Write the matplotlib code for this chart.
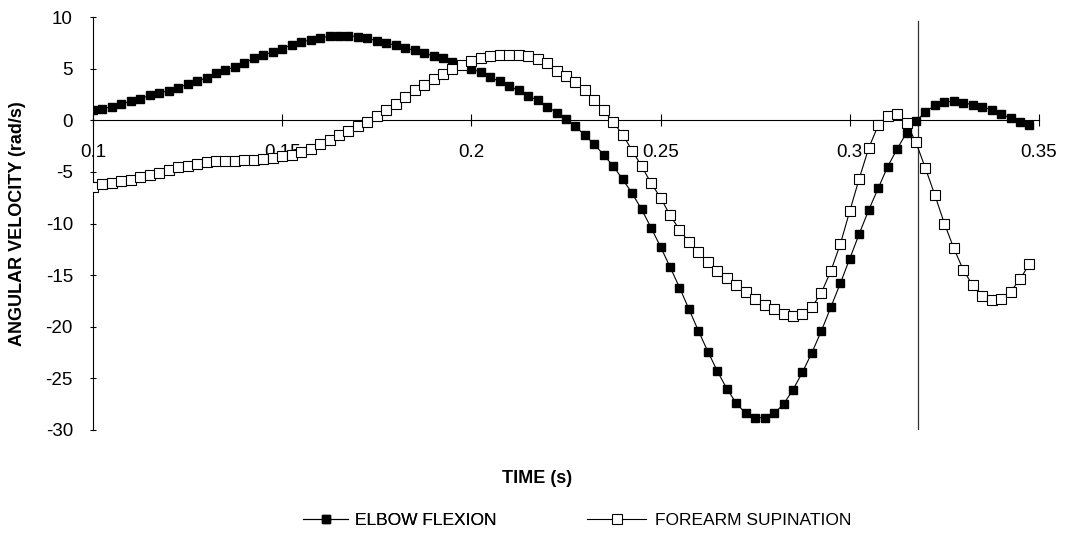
import numpy as np
import matplotlib
matplotlib.use('Agg')
import matplotlib.pyplot as plt
from matplotlib.ticker import FixedLocator

plt.rcParams['font.family'] = ['Liberation Sans', 'DejaVu Sans']

# 时间 (s)：0.1 起，每 0.0025 s 一个采样点
time = np.round(0.1 + 0.0025 * np.arange(100), 4)

elbow_flexion = [
    0.97, 1.1, 1.33, 1.58, 1.84, 2.1, 2.4, 2.62, 2.88, 3.17,
    3.5, 3.79, 4.1, 4.53, 4.85, 5.17, 5.56, 5.99, 6.28, 6.63,
    6.95, 7.3, 7.55, 7.8, 8.0, 8.12, 8.18, 8.2, 8.1, 7.93,
    7.7, 7.5, 7.25, 7.0, 6.77, 6.5, 6.24, 6.0, 5.66, 5.34,
    5.0, 4.63, 4.15, 3.76, 3.27, 2.91, 2.36, 1.94, 1.33, 0.75,
    0.17, -0.6, -1.46, -2.33, -3.37, -4.44, -5.73, -7.09, -8.64, -10.42,
    -12.26, -14.2, -16.2, -18.3, -20.4, -22.4, -24.3, -26.0, -27.4, -28.4,
    -28.8, -28.8, -28.4, -27.5, -26.1, -24.4, -22.5, -20.4, -18.1, -15.8,
    -13.4, -11.0, -8.7, -6.6, -4.5, -2.8, -1.2, -0.1, 0.8, 1.45,
    1.75, 1.85, 1.7, 1.5, 1.3, 1.0, 0.6, 0.2, -0.2, -0.5,
]

forearm_supination = [
    -6.5, -6.2, -6.1, -5.9, -5.75, -5.5, -5.35, -5.1, -4.8, -4.55,
    -4.45, -4.25, -4.05, -3.98, -3.9, -3.9, -3.88, -3.85, -3.75, -3.65,
    -3.5, -3.33, -3.07, -2.75, -2.33, -1.88, -1.46, -1.04, -0.58, -0.13,
    0.4, 0.95, 1.6, 2.3, 2.9, 3.45, 4.0, 4.5, 4.95, 5.35,
    5.75, 6.05, 6.2, 6.3, 6.33, 6.3, 6.2, 5.9, 5.5, 4.8,
    4.3, 3.75, 2.95, 2.0, 0.95, -0.2, -1.4, -2.95, -4.45, -6.1,
    -7.5, -9.2, -10.6, -11.8, -12.8, -13.7, -14.6, -15.3, -16.0, -16.6,
    -17.3, -17.9, -18.3, -18.8, -19.0, -18.8, -18.1, -16.7, -14.6, -12.0,
    -8.8, -5.65, -2.7, -0.5, 0.45, 0.6, -0.3, -2.15, -4.65, -7.25,
    -10.0, -12.4, -14.5, -16.0, -17.0, -17.4, -17.3, -16.6, -15.4, -13.9,
]

x_ticks = [0.1, 0.15, 0.2, 0.25, 0.3, 0.35]
x_tick_labels = ['0.1', '0.15', '0.2', '0.25', '0.3', '0.35']
y_ticks = [10, 5, 0, -5, -10, -15, -20, -25, -30]
marker_time = 0.318

fig = plt.figure(figsize=(10.68, 5.47), dpi=100)
ax = fig.add_axes([0.0871, 0.2139, 0.8857, 0.7550])

l1, = ax.plot(time, elbow_flexion, color='black', lw=0.8, marker='s', ms=5.5,
              mfc='black', mec='black', label='ELBOW FLEXION', zorder=3)
l2, = ax.plot(time, forearm_supination, color='black', lw=0.8, marker='s', ms=6.5,
              mfc='white', mec='black', mew=0.8, label='FOREARM SUPINATION', zorder=3)

# 竖直参考线
ax.plot([marker_time, marker_time], [-30, 9.6], color='#333333', lw=0.9, zorder=2)

ax.set_xlim(0.1, 0.35)
ax.set_ylim(-30, 10)

ax.spines['top'].set_visible(False)
ax.spines['right'].set_visible(False)
ax.spines['bottom'].set_position(('data', 0))
ax.spines['bottom'].set_linewidth(0.8)
ax.spines['left'].set_linewidth(0.8)

ax.xaxis.set_major_locator(FixedLocator(x_ticks))
ax.set_xticklabels(x_tick_labels)
ax.yaxis.set_major_locator(FixedLocator(y_ticks))
ax.set_yticklabels([str(v) for v in y_ticks])
ax.tick_params(axis='x', direction='inout', length=8, width=0.8, labelsize=13.5, pad=13)
ax.tick_params(axis='y', direction='inout', length=5, width=0.8, labelsize=13.5, pad=12)

ax.set_ylabel('ANGULAR VELOCITY (rad/s)', fontsize=13, fontweight='bold')
ax.yaxis.set_label_coords(-0.071, 0.5)
fig.text(0.503, 0.125, 'TIME (s)', ha='center', va='center', fontsize=13, fontweight='bold')

# 图例：两项分开放置
leg1 = fig.legend(handles=[l1], loc='center left', bbox_to_anchor=(0.284, 0.048),
                  frameon=False, fontsize=12.5, handlelength=2.6, handletextpad=0.4,
                  borderpad=0, borderaxespad=0)
fig.add_artist(leg1)
fig.legend(handles=[l2], loc='center left', bbox_to_anchor=(0.55, 0.048),
           frameon=False, fontsize=12.5, handlelength=3.4, handletextpad=0.5,
           borderpad=0, borderaxespad=0)

fig.savefig('out.png', dpi=100)
plt.close(fig)
